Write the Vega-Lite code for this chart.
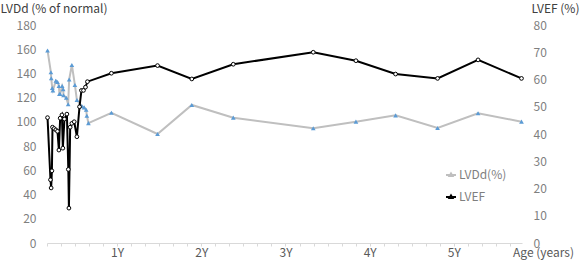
{
  "$schema": "https://vega.github.io/schema/vega-lite/v6.json",
  "width": 475,
  "height": 218,
  "autosize": {"type": "none"},
  "padding": {"left": 47, "top": 25, "right": 59, "bottom": 19},
  "config": {
    "font": "Noto Sans CJK JP",
    "view": {"stroke": null},
    "axis": {"grid": false, "labelFont": "Noto Sans CJK JP", "titleFont": "Noto Sans CJK JP", "labelColor": "#7f7f7f", "labelFontSize": 12, "titleFontWeight": "normal", "titleFontSize": 12, "titleColor": "#404040"}
  },
  "data": {
    "values": [
      {"age": 0.173, "series": "LVDd(%)", "value": 159},
      {"age": 0.213, "series": "LVDd(%)", "value": 141},
      {"age": 0.217, "series": "LVDd(%)", "value": 136},
      {"age": 0.229, "series": "LVDd(%)", "value": 128},
      {"age": 0.237, "series": "LVDd(%)", "value": 126},
      {"age": 0.272, "series": "LVDd(%)", "value": 134},
      {"age": 0.291, "series": "LVDd(%)", "value": 133},
      {"age": 0.308, "series": "LVDd(%)", "value": 129.6},
      {"age": 0.314, "series": "LVDd(%)", "value": 123},
      {"age": 0.323, "series": "LVDd(%)", "value": 123},
      {"age": 0.347, "series": "LVDd(%)", "value": 129.6},
      {"age": 0.359, "series": "LVDd(%)", "value": 127},
      {"age": 0.363, "series": "LVDd(%)", "value": 122},
      {"age": 0.395, "series": "LVDd(%)", "value": 120},
      {"age": 0.418, "series": "LVDd(%)", "value": 114.5},
      {"age": 0.430, "series": "LVDd(%)", "value": 135},
      {"age": 0.462, "series": "LVDd(%)", "value": 147},
      {"age": 0.498, "series": "LVDd(%)", "value": 130.5},
      {"age": 0.522, "series": "LVDd(%)", "value": 118},
      {"age": 0.581, "series": "LVDd(%)", "value": 113},
      {"age": 0.608, "series": "LVDd(%)", "value": 112},
      {"age": 0.632, "series": "LVDd(%)", "value": 110},
      {"age": 0.640, "series": "LVDd(%)", "value": 105},
      {"age": 0.659, "series": "LVDd(%)", "value": 99},
      {"age": 0.932, "series": "LVDd(%)", "value": 107.5},
      {"age": 1.480, "series": "LVDd(%)", "value": 90},
      {"age": 1.887, "series": "LVDd(%)", "value": 114},
      {"age": 2.380, "series": "LVDd(%)", "value": 103.5},
      {"age": 3.330, "series": "LVDd(%)", "value": 94.7},
      {"age": 3.837, "series": "LVDd(%)", "value": 100.2},
      {"age": 4.308, "series": "LVDd(%)", "value": 105.4},
      {"age": 4.807, "series": "LVDd(%)", "value": 95},
      {"age": 5.288, "series": "LVDd(%)", "value": 107.1},
      {"age": 5.804, "series": "LVDd(%)", "value": 100.2},
      {"age": 0.173, "series": "LVEF", "value": 46},
      {"age": 0.208, "series": "LVEF", "value": 23.2},
      {"age": 0.216, "series": "LVEF", "value": 20.2},
      {"age": 0.225, "series": "LVEF", "value": 26.5},
      {"age": 0.232, "series": "LVEF", "value": 42.5},
      {"age": 0.252, "series": "LVEF", "value": 42},
      {"age": 0.272, "series": "LVEF", "value": 41.5},
      {"age": 0.291, "series": "LVEF", "value": 41},
      {"age": 0.308, "series": "LVEF", "value": 34.1},
      {"age": 0.323, "series": "LVEF", "value": 45.8},
      {"age": 0.344, "series": "LVEF", "value": 47},
      {"age": 0.355, "series": "LVEF", "value": 34.8},
      {"age": 0.374, "series": "LVEF", "value": 45.5},
      {"age": 0.403, "series": "LVEF", "value": 47.3},
      {"age": 0.420, "series": "LVEF", "value": 27},
      {"age": 0.427, "series": "LVEF", "value": 12.8},
      {"age": 0.442, "series": "LVEF", "value": 42.5},
      {"age": 0.462, "series": "LVEF", "value": 43.9},
      {"age": 0.490, "series": "LVEF", "value": 44.5},
      {"age": 0.522, "series": "LVEF", "value": 39},
      {"age": 0.553, "series": "LVEF", "value": 50},
      {"age": 0.576, "series": "LVEF", "value": 56},
      {"age": 0.600, "series": "LVEF", "value": 56},
      {"age": 0.624, "series": "LVEF", "value": 57.2},
      {"age": 0.647, "series": "LVEF", "value": 59.2},
      {"age": 0.932, "series": "LVEF", "value": 62.3},
      {"age": 1.480, "series": "LVEF", "value": 65.1},
      {"age": 1.887, "series": "LVEF", "value": 60.2},
      {"age": 2.380, "series": "LVEF", "value": 65.6},
      {"age": 3.330, "series": "LVEF", "value": 70},
      {"age": 3.837, "series": "LVEF", "value": 66.9},
      {"age": 4.308, "series": "LVEF", "value": 62},
      {"age": 4.807, "series": "LVEF", "value": 60.4},
      {"age": 5.288, "series": "LVEF", "value": 67.2},
      {"age": 5.804, "series": "LVEF", "value": 60.4}
    ]
  },
  "encoding": {
    "x": {
      "field": "age", "type": "quantitative",
      "scale": {"domain": [0.1667, 5.81], "nice": false, "zero": false},
      "axis": {
        "title": "Age (years)", "titleX": 496, "titleY": 9, "titleBaseline": "middle", "titleAlign": "center", "titleColor": "#595959",
        "values": [0.1667, 0.3333, 0.5, 0.6667, 0.8333, 1, 1.1667, 1.3333, 1.5, 1.6667, 1.8333, 2, 2.1667, 2.3333, 2.5, 2.6667, 2.8333, 3, 3.1667, 3.3333, 3.5, 3.6667, 3.8333, 4, 4.1667, 4.3333, 4.5, 4.6667, 4.8333, 5, 5.1667, 5.3333, 5.5, 5.6667],
        "labelExpr": "abs(datum.value - round(datum.value)) < 0.01 ? round(datum.value) + 'Y' : ''",
        "domainColor": "#d9d9d9", "tickColor": "#d9d9d9", "tickSize": 3, "labelPadding": 1, "labelColor": "#595959", "labelFlush": false
      }
    }
  },
  "layer": [
    {
      "transform": [{"filter": "datum.series == 'LVDd(%)'"}],
      "encoding": {
        "y": {
          "field": "value", "type": "quantitative",
          "scale": {"domain": [0, 180], "nice": false},
          "axis": {"orient": "left", "values": [0, 20, 40, 60, 80, 100, 120, 140, 160, 180], "domain": false, "ticks": false, "labelPadding": 11,
            "title": "LVDd (% of normal)", "titleAngle": 0, "titleX": -47, "titleY": -17, "titleAlign": "left", "titleBaseline": "middle"}
        }
      },
      "layer": [
        {"mark": {"type": "line", "strokeWidth": 2},
         "encoding": {"color": {"field": "series", "type": "nominal",
           "scale": {"domain": ["LVDd(%)", "LVEF"], "range": ["#BFBFBF", "#000000"]},
           "legend": {"title": null, "orient": "none", "legendX": 398, "legendY": 144, "labelFontSize": 12, "labelColor": "#7f7f7f", "labelFont": "Noto Sans CJK JP", "labelOffset": 2, "symbolType": "M-1,0H1M-0.3,0.2L0,-0.3L0.3,0.2Z", "symbolSize": 100, "symbolStrokeWidth": 2, "rowPadding": 10}}}},
        {"mark": {"type": "point", "shape": "triangle-up", "filled": true, "color": "#5B9BD5", "size": 22, "opacity": 1}}
      ]
    },
    {
      "transform": [{"filter": "datum.series == 'LVEF'"}],
      "encoding": {
        "y": {
          "field": "value", "type": "quantitative",
          "scale": {"domain": [0, 80], "nice": false},
          "axis": {"orient": "right", "values": [0, 10, 20, 30, 40, 50, 60, 70, 80], "domain": false, "ticks": false, "labelPadding": 11,
            "title": "LVEF (%)", "titleAngle": 0, "titleX": 9, "titleY": -17, "titleAlign": "left", "titleBaseline": "middle"}
        }
      },
      "layer": [
        {"mark": {"type": "line", "strokeWidth": 2},
         "encoding": {"color": {"field": "series", "type": "nominal"}}},
        {"mark": {"type": "point", "shape": "circle", "filled": true, "fill": "#ffffff", "stroke": "#000000", "strokeWidth": 1, "size": 14, "opacity": 1}}
      ]
    }
  ],
  "resolve": {"scale": {"y": "independent"}}
}
